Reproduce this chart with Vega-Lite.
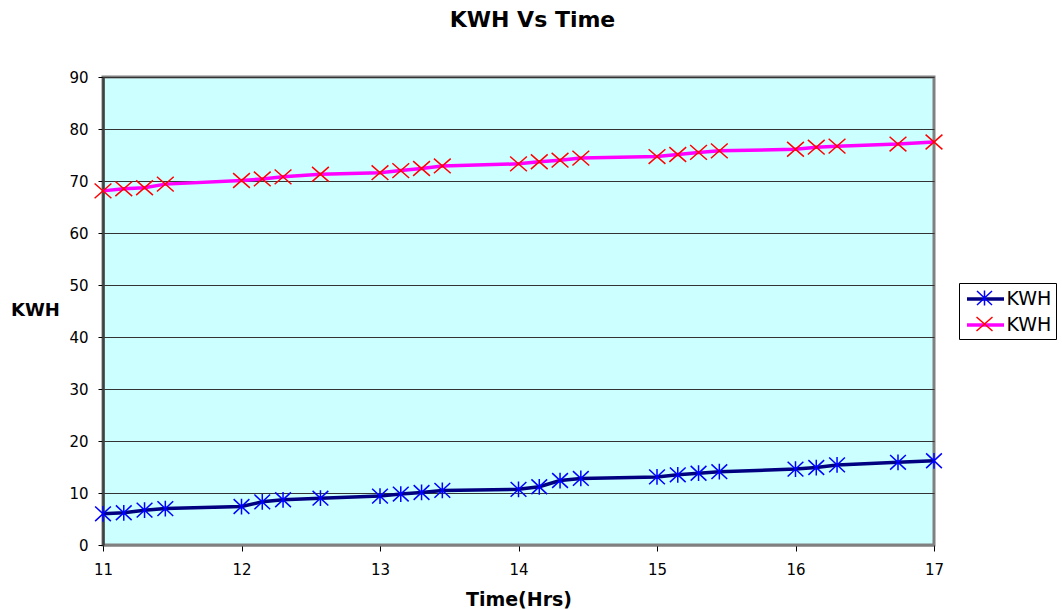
{
  "$schema": "https://vega.github.io/schema/vega-lite/v6.json",
  "width": 831,
  "height": 468,
  "autosize": {"type": "none"},
  "padding": {"left": 103, "top": 77, "right": 128, "bottom": 64},
  "background": "white",
  "title": {"text": "KWH Vs Time", "font": "DejaVu Sans", "fontSize": 22, "fontWeight": "bold", "anchor": "middle", "frame": "group", "baseline": "bottom", "offset": 16, "dx": 14, "color": "black"},
  "datasets": {
    "kwh": [
      {"time": 11.0, "kwh": 6.0, "series": "KWH1"},
      {"time": 11.15, "kwh": 6.2, "series": "KWH1"},
      {"time": 11.3, "kwh": 6.7, "series": "KWH1"},
      {"time": 11.45, "kwh": 7.0, "series": "KWH1"},
      {"time": 12.0, "kwh": 7.4, "series": "KWH1"},
      {"time": 12.15, "kwh": 8.3, "series": "KWH1"},
      {"time": 12.3, "kwh": 8.7, "series": "KWH1"},
      {"time": 12.57, "kwh": 9.0, "series": "KWH1"},
      {"time": 13.0, "kwh": 9.4, "series": "KWH1"},
      {"time": 13.15, "kwh": 9.8, "series": "KWH1"},
      {"time": 13.3, "kwh": 10.1, "series": "KWH1"},
      {"time": 13.45, "kwh": 10.5, "series": "KWH1"},
      {"time": 14.0, "kwh": 10.7, "series": "KWH1"},
      {"time": 14.15, "kwh": 11.2, "series": "KWH1"},
      {"time": 14.3, "kwh": 12.4, "series": "KWH1"},
      {"time": 14.45, "kwh": 12.8, "series": "KWH1"},
      {"time": 15.0, "kwh": 13.1, "series": "KWH1"},
      {"time": 15.15, "kwh": 13.5, "series": "KWH1"},
      {"time": 15.3, "kwh": 13.8, "series": "KWH1"},
      {"time": 15.45, "kwh": 14.1, "series": "KWH1"},
      {"time": 16.0, "kwh": 14.6, "series": "KWH1"},
      {"time": 16.15, "kwh": 14.9, "series": "KWH1"},
      {"time": 16.3, "kwh": 15.4, "series": "KWH1"},
      {"time": 16.74, "kwh": 15.9, "series": "KWH1"},
      {"time": 17.0, "kwh": 16.2, "series": "KWH1"},
      {"time": 11.0, "kwh": 68.1, "series": "KWH2"},
      {"time": 11.15, "kwh": 68.5, "series": "KWH2"},
      {"time": 11.3, "kwh": 68.7, "series": "KWH2"},
      {"time": 11.45, "kwh": 69.4, "series": "KWH2"},
      {"time": 12.0, "kwh": 70.1, "series": "KWH2"},
      {"time": 12.15, "kwh": 70.4, "series": "KWH2"},
      {"time": 12.3, "kwh": 70.8, "series": "KWH2"},
      {"time": 12.57, "kwh": 71.3, "series": "KWH2"},
      {"time": 13.0, "kwh": 71.6, "series": "KWH2"},
      {"time": 13.15, "kwh": 72.0, "series": "KWH2"},
      {"time": 13.3, "kwh": 72.4, "series": "KWH2"},
      {"time": 13.45, "kwh": 72.9, "series": "KWH2"},
      {"time": 14.0, "kwh": 73.3, "series": "KWH2"},
      {"time": 14.15, "kwh": 73.7, "series": "KWH2"},
      {"time": 14.3, "kwh": 74.0, "series": "KWH2"},
      {"time": 14.45, "kwh": 74.4, "series": "KWH2"},
      {"time": 15.0, "kwh": 74.7, "series": "KWH2"},
      {"time": 15.15, "kwh": 75.1, "series": "KWH2"},
      {"time": 15.3, "kwh": 75.5, "series": "KWH2"},
      {"time": 15.45, "kwh": 75.8, "series": "KWH2"},
      {"time": 16.0, "kwh": 76.1, "series": "KWH2"},
      {"time": 16.15, "kwh": 76.5, "series": "KWH2"},
      {"time": 16.3, "kwh": 76.7, "series": "KWH2"},
      {"time": 16.74, "kwh": 77.1, "series": "KWH2"},
      {"time": 17.0, "kwh": 77.5, "series": "KWH2"}
    ]
  },
  "data": {"name": "kwh"},
  "encoding": {
    "x": {
      "field": "time", "type": "quantitative",
      "scale": {"domain": [11, 17], "nice": false, "zero": false},
      "axis": {"values": [11, 12, 13, 14, 15, 16, 17], "format": "d", "title": "Time(Hrs)", "grid": false,
        "labelFlush": false,
        "domainColor": "#808080", "domainWidth": 2, "tickColor": "black", "tickSize": 6, "tickWidth": 1,
        "labelFont": "DejaVu Sans", "labelFontSize": 15, "labelColor": "black", "labelPadding": 11,
        "titleFont": "DejaVu Sans", "titleFontSize": 19, "titleFontWeight": "bold", "titleColor": "black",
        "titleBaseline": "middle", "titleY": 54}
    },
    "y": {
      "field": "kwh", "type": "quantitative",
      "scale": {"domain": [0, 90], "nice": false},
      "axis": {"values": [0, 10, 20, 30, 40, 50, 60, 70, 80, 90], "title": "KWH", "grid": true,
        "labelFlush": false,
        "gridColor": "#333333", "gridWidth": 1,
        "domainColor": "#404040", "domainWidth": 2.5, "tickColor": "black", "tickSize": 5, "tickWidth": 1,
        "labelFont": "DejaVu Sans", "labelFontSize": 15, "labelColor": "black", "labelPadding": 10,
        "titleFont": "DejaVu Sans", "titleFontSize": 18, "titleFontWeight": "bold", "titleColor": "black",
        "titleAngle": 0, "titleAlign": "center", "titleBaseline": "middle", "titleX": -68, "titleY": 233}
    }
  },
  "layer": [
    {
      "mark": {"type": "line", "strokeWidth": 3.5},
      "encoding": {
        "color": {
          "field": "series", "type": "nominal",
          "scale": {"range": ["#000080", "#FF00FF"]},
          "legend": {"orient": "none", "legendX": 856, "legendY": 206, "title": null, "labelExpr": "'KWH'",
            "padding": 4, "strokeColor": "black", "fillColor": "white", "rowPadding": 4,
            "symbolType": "M-1.85,0H1.85", "symbolSize": 400, "symbolStrokeWidth": 3.5, "symbolOffset": 10.5,
            "labelOffset": 9, "labelFont": "DejaVu Sans", "labelFontSize": 19, "labelColor": "black"}
        }
      }
    },
    {
      "mark": {"type": "point", "filled": false, "size": 441, "strokeWidth": 1.5, "opacity": 1},
      "encoding": {
        "stroke": {
          "field": "series", "type": "nominal",
          "scale": {"domain": ["KWH1", "KWH2"], "range": ["#0000FF", "#FF0000"]},
          "legend": {"orient": "none", "legendX": 856, "legendY": 206, "title": null, "labelExpr": "'KWH'",
            "padding": 4, "rowPadding": 4, "symbolSize": 400, "symbolStrokeWidth": 1.5, "symbolOffset": 10.5,
            "labelOffset": 9, "labelFont": "DejaVu Sans", "labelFontSize": 19, "labelOpacity": 0}
        },
        "shape": {
          "field": "series", "type": "nominal",
          "scale": {"domain": ["KWH1", "KWH2"], "range": ["M-0.75,-0.7L0.75,0.7M-0.75,0.7L0.75,-0.7M0,-0.75V0.75", "M-0.8,-0.7L0.8,0.7M-0.8,0.7L0.8,-0.7"]},
          "legend": {"orient": "none", "legendX": 856, "legendY": 206, "title": null, "labelExpr": "'KWH'",
            "padding": 4, "rowPadding": 4, "symbolSize": 400, "symbolStrokeWidth": 1.5, "symbolOffset": 10.5,
            "labelOffset": 9, "labelFont": "DejaVu Sans", "labelFontSize": 19, "labelOpacity": 0}
        }
      }
    }
  ],
  "config": {
    "font": "DejaVu Sans",
    "view": {"fill": "#CCFFFF", "stroke": "#808080", "strokeWidth": 3}
  }
}
